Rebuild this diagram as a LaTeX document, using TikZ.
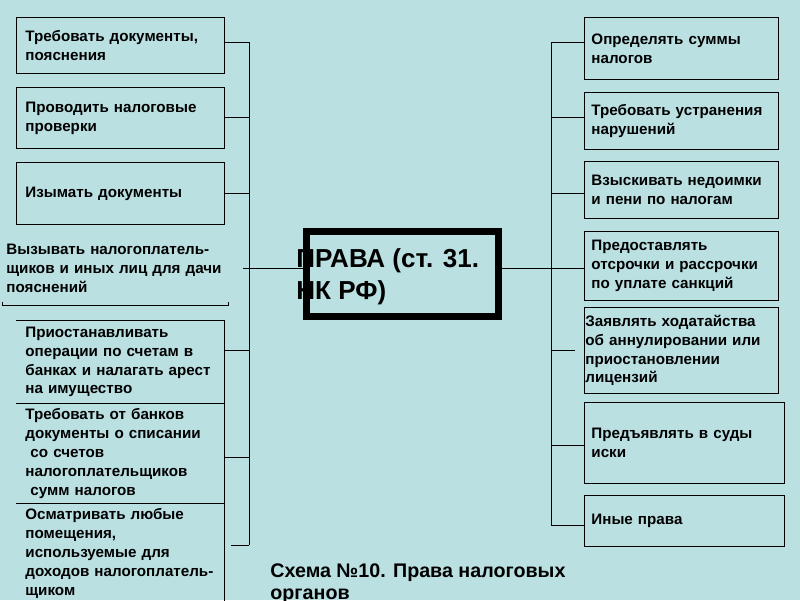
\documentclass[tikz,border=0pt]{standalone}
\usepackage{fontspec}
\setmainfont{Liberation Sans}
\definecolor{bgteal}{RGB}{186,224,226}

\begin{document}
\begin{tikzpicture}[x=0.025cm, y=-0.025cm, line width=0.6pt,
  box/.style={draw, anchor=north west, align=left, inner ysep=0pt,
    font=\bfseries\fontsize{10.8}{13.4}\selectfont},
  lbox/.style={box, inner xsep=0.225cm, text width=4.75cm},
  rbox/.style={box, inner xsep=0.175cm, text width=4.5cm}]
\fill[bgteal] (0,0) rectangle (800,600);
\useasboundingbox (0,0) rectangle (800,600);

% left column
\node[lbox, minimum height=1.4cm] (l1) at (16,17) {Требовать документы,\\пояснения};
\node[lbox, minimum height=1.525cm] (l2) at (16,87) {Проводить налоговые\\проверки};
\node[lbox, minimum height=1.55cm] (l3) at (16,162) {Изымать документы};
\node[box, draw=none, inner xsep=0.1cm, text width=5.45cm, minimum height=1.85cm] (l4) at (2,231)
  {Вызывать налогоплатель-\\щиков и иных лиц для дачи\\пояснений};
\node[lbox, draw=none, minimum height=2.075cm] (l5) at (16,320)
  {Приостанавливать\\операции по счетам в\\банках и налагать арест\\на имущество};
\node[lbox, draw=none, minimum height=2.5cm] (l6) at (16,403)
  {Требовать от банков\\документы о списании\\\ со счетов\\налогоплательщиков\\\ сумм налогов};
\node[lbox, draw=none, minimum height=2.5cm] (l7) at (16,503)
  {Осматривать любые\\помещения,\\используемые для\\доходов налогоплатель-\\щиком};
\draw (l4.south west) ++(0,-4) -- (l4.south west) -- (l4.south east) -- ++(0,-4);
\draw (l5.north west) -- (l5.north east) -- (l5.south east) -- (l5.south west);
\draw (l6.north east) -- (l6.south east);
\draw (l7.north west) -- (l7.north east) -- (l7.south east);

% centre
\node[draw, line width=0.175cm, minimum width=4.8cm, minimum height=2.125cm] (prava) at (402.5,274) {};
\node[anchor=west, align=left, inner sep=0pt, font=\bfseries\fontsize{18.5}{22.75}\selectfont] (pravatxt) at (296,277)
  {ПРАВА (ст. 31.\\НК РФ)};

% right column
\node[rbox, minimum height=1.55cm] (r1) at (584,17) {Определять суммы\\налогов};
\node[rbox, minimum height=1.425cm] (r2) at (584,92) {Требовать устранения\\нарушений};
\node[rbox, minimum height=1.425cm] (r3) at (584,161) {Взыскивать недоимки\\и пени по налогам};
\node[rbox, minimum height=1.725cm] (r4) at (584,231) {Предоставлять\\отсрочки и рассрочки\\по уплате санкций};
\node[rbox, inner xsep=0.025cm, text width=4.8cm, minimum height=2.15cm] (r5) at (584,307)
  {Заявлять ходатайства\\об аннулировании или\\приостановлении\\лицензий};
\node[rbox, text width=4.65cm, minimum height=2.025cm] (r6) at (584,402) {Предъявлять в суды\\иски};
\node[rbox, text width=4.65cm, minimum height=1.275cm] (r7) at (584,495) {Иные права};

% connectors
\foreach \n/\y in {l1/42, l2/117, l3/193, l5/350, l6/457}{
  \coordinate (j\n) at (249,\y);
  \draw (j\n) -- (j\n -| \n.east);
}
\coordinate (jl7) at (249,545);
\draw[shorten >=0.15cm] (jl7) -- (jl7 -| l7.east);
\draw (jl1) -- (jl7);
\coordinate (jl4) at (243,268);
\draw (jl4) -- (jl4 -| prava.west);

\foreach \n/\y in {r1/42, r2/117, r3/193, r4/268, r6/445, r7/525}{
  \coordinate (j\n) at (551,\y);
  \draw (j\n) -- (j\n -| \n.west);
}
\coordinate (jr5) at (551,350);
\draw[shorten >=0.225cm] (jr5) -- (jr5 -| r5.west);
\draw (jr1) -- (jr7);
\draw (prava.east |- jr4) -- (jr4);

\node[anchor=north west, align=left, inner sep=0pt, font=\bfseries\fontsize{14}{15.6}\selectfont] (caption) at (270,563)
  {Схема №10. Права налоговых\\органов};
\end{tikzpicture}
\end{document}
